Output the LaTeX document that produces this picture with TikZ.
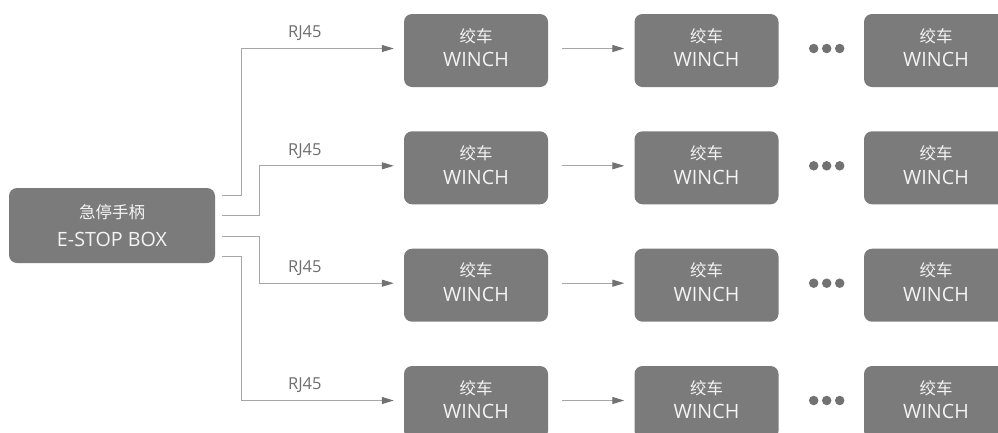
\documentclass[tikz,border=0pt]{standalone}
\usepackage{fontspec}
\setmainfont{Open Sans}
\newfontfamily\cjk{Noto Sans CJK SC}
\usetikzlibrary{arrows.meta}
\definecolor{boxgray}{HTML}{7B7B7B}
\definecolor{linegray}{HTML}{A6A6A6}
\definecolor{tipgray}{HTML}{727272}
\definecolor{lblgray}{HTML}{6E6E6E}
\definecolor{boxtext}{HTML}{F4F4F4}
\begin{document}
\begin{tikzpicture}[x=1pt,y=-1pt,
  box/.style={fill=boxgray, rounded corners=8pt, minimum width=144pt, minimum height=73pt,
    inner sep=0pt, text=boxtext, align=center, text depth=6pt, font=\fontsize{19.7}{24.5}\selectfont},
  ebox/.style={fill=boxgray, rounded corners=8pt, minimum width=206pt, minimum height=75pt,
    inner sep=0pt, text=boxtext, align=center, text depth=-4pt, font=\fontsize{19.7}{28}\selectfont},
  conn/.style={draw=linegray, line width=1pt, -{Triangle[length=12pt,width=7pt,color=tipgray]}},
  lbl/.style={text=lblgray, font=\fontsize{16.5}{18}\selectfont, inner sep=0pt},
  dotc/.style={fill=tipgray, circle, minimum size=9.5pt, inner sep=0pt}
]
\clip (0,0) rectangle (998,432);
\fill[white] (0,0) rectangle (998,432);

\node[ebox] (e) at (112,225.5) {{\cjk\fontsize{16.5}{18}\selectfont 急停手柄}\\E-STOP BOX};

\foreach \r/\y in {1/50.5,2/167.8,3/285.2,4/402.5}{
  \foreach \c/\x in {1/476,2/706.5,3/936}{
    \node[box] (w\r\c) at (\x,\y) {{\cjk\fontsize{16.5}{18}\selectfont 绞车}\\WINCH};
  }
  \draw[conn] ([shift={(14,-2)}]w\r1.east) -- ([shift={(-10,-2)}]w\r2.west);
  \node[dotc] (d\r a) at ([shift={(35,-2)}]w\r2.east) {};
  \node[dotc] (d\r b) at ([shift={(48,-2)}]w\r2.east) {};
  \node[dotc] (d\r c) at ([shift={(61,-2)}]w\r2.east) {};
  \node[lbl] (l\r) at ([shift={(-99,-17)}]w\r1.west) {RJ45};
}

\draw[conn] ([shift={(7,-30.5)}]e.east) -- ++(19,0) |- ([shift={(-10,-2)}]w11.west);
\draw[conn] ([shift={(7,-10.5)}]e.east) -- ++(37,0) |- ([shift={(-10,-2)}]w21.west);
\draw[conn] ([shift={(7,10.5)}]e.east) -- ++(37,0) |- ([shift={(-10,-2)}]w31.west);
\draw[conn] ([shift={(7,30.5)}]e.east) -- ++(19,0) |- ([shift={(-10,-2)}]w41.west);
\end{tikzpicture}
\end{document}
